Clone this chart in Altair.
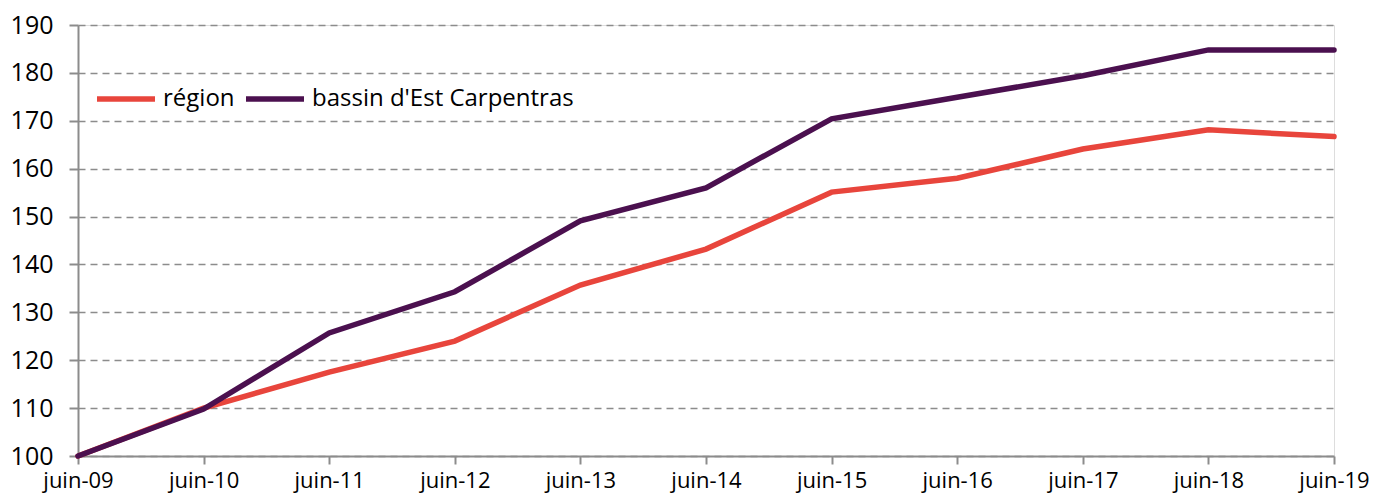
import altair as alt
import pandas as pd

periods = ["juin-09", "juin-10", "juin-11", "juin-12", "juin-13", "juin-14",
           "juin-15", "juin-16", "juin-17", "juin-18", "juin-19"]
region = [100, 110, 117.5, 124, 135.7, 143.2, 155.1, 158, 164.1, 168.1, 166.7]
bassin = [100, 109.8, 125.7, 134.3, 149.1, 156, 170.4, 174.9, 179.4, 184.8, 184.8]
series_names = ["région", "bassin d'Est Carpentras"]
series_colors = ["#E8453C", "#4B104F"]

rows = []
for name, vals in zip(series_names, [region, bassin]):
    for p, v in zip(periods, vals):
        rows.append({"periode": p, "valeur": v, "serie": name})
df = pd.DataFrame(rows)

FONT = "Open Sans"
GREY = "#8C8C8C"

chart = alt.Chart(df).mark_line(strokeWidth=5.5, strokeCap="round", strokeJoin="miter").encode(
    x=alt.X("periode:O", sort=periods,
            scale=alt.Scale(type="point", padding=0),
            axis=alt.Axis(title=None, labelAngle=0, labelFontSize=22, labelFont=FONT,
                          labelColor="#000000", labelPadding=6,
                          domainColor=GREY, domainWidth=2, tickColor=GREY, tickWidth=2,
                          tickSize=8, grid=False)),
    y=alt.Y("valeur:Q", scale=alt.Scale(domain=[100, 190], nice=False, zero=False),
            axis=alt.Axis(title=None, values=list(range(100, 200, 10)), labelFontSize=25,
                          labelFont=FONT, labelColor="#000000", labelPadding=16,
                          domainColor=GREY, domainWidth=2, tickColor=GREY, tickWidth=2,
                          tickSize=9, grid=True, gridColor=GREY, gridWidth=1.5,
                          gridDash=[7, 5])),
    color=alt.Color("serie:N", sort=series_names,
                    scale=alt.Scale(domain=series_names, range=series_colors),
                    legend=alt.Legend(title=None, orient="none", direction="horizontal",
                                      legendX=16, legendY=42, symbolType="stroke",
                                      symbolStrokeWidth=5.5, symbolSize=3364,
                                      labelFontSize=24, labelFont=FONT, labelColor="#000000",
                                      labelLimit=0, labelOffset=5, columnPadding=0,
                                      symbolOffset=0)),
    order=alt.Order("serie:N")
).properties(
    width=1256, height=431,
    autosize=alt.AutoSizeParams(type="none"),
    padding={"left": 70, "top": 17, "right": 36, "bottom": 40}
).configure_view(stroke=None).configure(background="#FFFFFF")

chart.save("out.html", embed_options={"renderer": "svg", "actions": False})
